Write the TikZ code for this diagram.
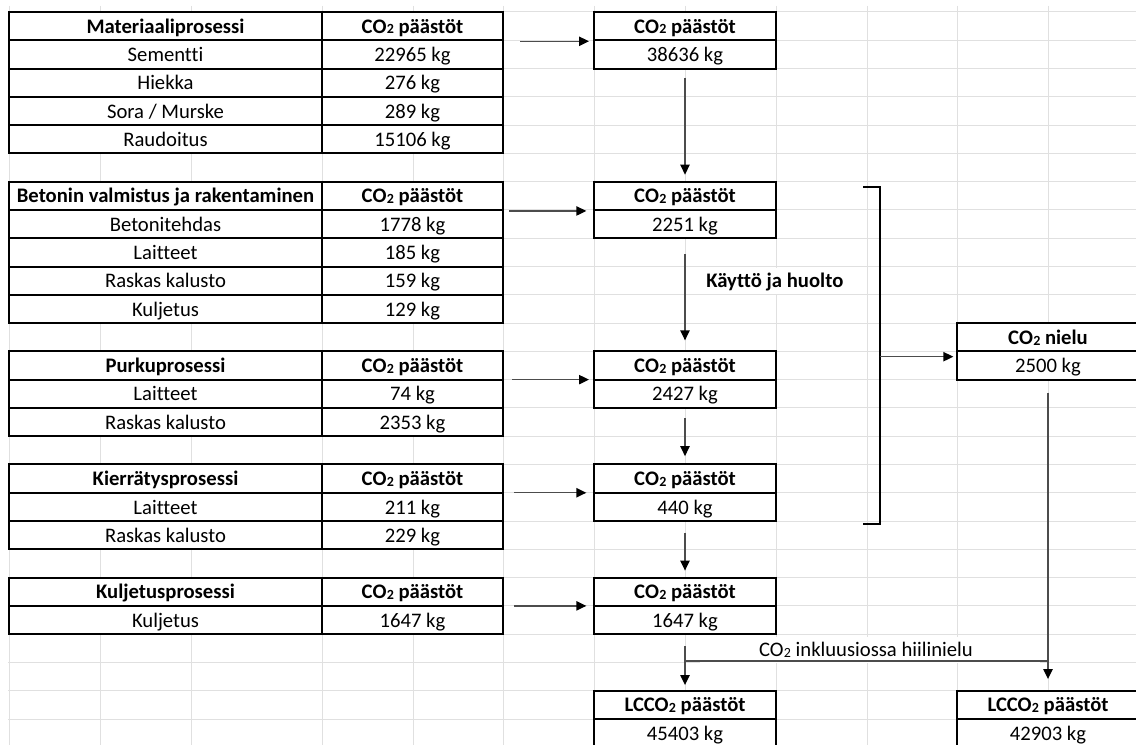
\documentclass[tikz,border=0pt]{standalone}
\usepackage{fontspec}
\setmainfont{Carlito}[Ligatures=NoCommon]
\usepackage{graphicx}
\usetikzlibrary{arrows.meta,calc}
\newcommand\cotwo{CO\kern0.2pt\raisebox{-0.5pt}{\fontsize{10.5pt}{12pt}\selectfont 2}}
\tikzset{
  gridln/.style={draw=black!12, line width=0.75pt},
  cellbox/.style={draw=black, fill=white, line width=1.5pt, inner sep=0pt,
    minimum height=21.21pt, text height=10.7pt, text depth=0pt,
    font=\fontsize{15.5pt}{18pt}\selectfont},
  wide/.style={cellbox, minimum width=234.75pt},
  narrow/.style={cellbox, minimum width=135.75pt},
  boxc/.style={cellbox, minimum width=136.5pt},
  hd/.style={font=\fontsize{15.5pt}{18pt}\selectfont\bfseries},
  txt/.style={inner sep=0pt, text height=10.7pt, text depth=0pt,
    font=\fontsize{15.5pt}{18pt}\selectfont},
  flow/.style={draw=black!70, line width=1pt,
    -{Triangle[length=7.5pt,width=7pt,color=black]}},
  plain/.style={draw=black!70, line width=1pt},
  brack/.style={draw=black, line width=1.5pt},
}
\newcommand\trow[5]{%
  \node[wide,#5] (#1a) at (165.5,#2) {#3};
  \node[narrow,#5] (#1b) at (412.5,#2) {#4};}
\newcommand\flowbox[6]{%
  \node[boxc,hd] (#1h) at (#2,#3) {#5};
  \node[boxc] (#1v) at (#2,#4) {#6};}
\begin{document}
\begin{tikzpicture}[x=0.75pt,y=-0.75pt]
\useasboundingbox (0,0) rectangle (1136,745);
\clip (0,0) rectangle (1136,745);
\fill[white] (0,0) rectangle (1136,745);
% spreadsheet grid
\foreach \x in {9,100,191,322,413,503,594,685,776,867,957,1048}
  \draw[gridln] (\x,6) -- (\x,745);
\foreach \k in {0,...,26}
  \draw[gridln] (8,{12+28.28*\k}) -- (1136,{12+28.28*\k});
% hide gridlines behind overflowing labels
\fill[white] (687,268) rectangle (866,294.3);
\fill[white] (700,636.6) rectangle (1040,663);

% table 1
\trow{ta0}{26.14}{Materiaaliprosessi}{\cotwo{} päästöt}{hd}
\trow{ta1}{54.42}{Sementti}{22965 kg}{}
\trow{ta2}{82.70}{Hiekka}{276 kg}{}
\trow{ta3}{110.98}{Sora / Murske}{289 kg}{}
\trow{ta4}{139.26}{Raudoitus}{15106 kg}{}
% table 2
\trow{tb0}{195.82}{Betonin valmistus ja rakentaminen}{\cotwo{} päästöt}{hd}
\trow{tb1}{224.10}{Betonitehdas}{1778 kg}{}
\trow{tb2}{252.38}{Laitteet}{185 kg}{}
\trow{tb3}{280.66}{Raskas kalusto}{159 kg}{}
\trow{tb4}{308.94}{Kuljetus}{129 kg}{}
% table 3
\trow{tc0}{365.50}{Purkuprosessi}{\cotwo{} päästöt}{hd}
\trow{tc1}{393.78}{Laitteet}{74 kg}{}
\trow{tc2}{422.06}{Raskas kalusto}{2353 kg}{}
% table 4
\trow{td0}{478.62}{Kierrätysprosessi}{\cotwo{} päästöt}{hd}
\trow{td1}{506.90}{Laitteet}{211 kg}{}
\trow{td2}{535.18}{Raskas kalusto}{229 kg}{}
% table 5
\trow{te0}{591.74}{Kuljetusprosessi}{\cotwo{} päästöt}{hd}
\trow{te1}{620.02}{Kuljetus}{1647 kg}{}

% flow boxes
\flowbox{A}{685}{26.14}{54.42}{\cotwo{} päästöt}{38636 kg}
\flowbox{B}{685}{195.82}{224.10}{\cotwo{} päästöt}{2251 kg}
\flowbox{C}{685}{365.50}{393.78}{\cotwo{} päästöt}{2427 kg}
\flowbox{D}{685}{478.62}{506.90}{\cotwo{} päästöt}{440 kg}
\flowbox{E}{685}{591.74}{620.02}{\cotwo{} päästöt}{1647 kg}
\flowbox{F}{685}{704.86}{733.14}{LC\cotwo{} päästöt}{45403 kg}
\flowbox{G}{1048}{337.22}{365.50}{\cotwo{} nielu}{2500 kg}
\flowbox{H}{1048}{704.86}{733.14}{LC\cotwo{} päästöt}{42903 kg}

% labels
\node[txt, font=\fontsize{15.5pt}{18pt}\selectfont\bfseries, anchor=west] (kh) at (706,280.66) {Käyttö ja huolto};
\node[txt] (inc) at (866,649.72) {\cotwo{} inkluusiossa hiilinielu};

% horizontal arrows from tables
\draw[flow, shorten >=3pt] ($(ta0b.south east)+(16,0)$) -- (Ah.south west);
\draw[flow, shorten >=5pt] ($(tb0b.south east)+(5,0)$) -- (Bh.south west);
\draw[flow, shorten >=3pt] ($(tc0b.south east)+(8,-1)$) -- ($(Ch.south west)+(0,-1)$);
\draw[flow, shorten >=5pt] ($(td0b.south east)+(10,-1)$) -- ($(Dh.south west)+(0,-1)$);
\draw[flow, shorten >=5pt] ($(te0b.south east)+(10,-1)$) -- ($(Eh.south west)+(0,-1)$);

% vertical arrows
\draw[flow, shorten <=6pt, shorten >=4.5pt] (Av.south) -- (Bh.north);
\draw[flow, shorten <=11pt, shorten >=7.5pt] (Bv.south) -- (Ch.north);
\draw[flow, shorten <=7pt, shorten >=5.5pt] (Cv.south) -- (Dh.north);
\draw[flow, shorten <=8pt, shorten >=4.5pt] (Dv.south) -- (Eh.north);
\draw[flow, shorten <=8.5pt, shorten >=3.5pt] (Ev.south) -- (Fh.north);

% bracket and sink arrow
\coordinate (bt) at (863,187);
\coordinate (bb) at (863,524);
\coordinate (bm) at (879.5,356.7);
\draw[brack] (bt) -- (879.5,187) -- (879.5,524) -- (bb);
\draw[flow, shorten >=2pt] (bm) -- (bm -| Gv.west);

% sink to final
\coordinate (j1) at (685,661);
\coordinate (j2) at (Gv.south |- j1);
\draw[flow, shorten <=9pt, shorten >=8pt] (Gv.south) -- (Hh.north);
\draw[plain] (j1) -- (j2);
\end{tikzpicture}
\end{document}
